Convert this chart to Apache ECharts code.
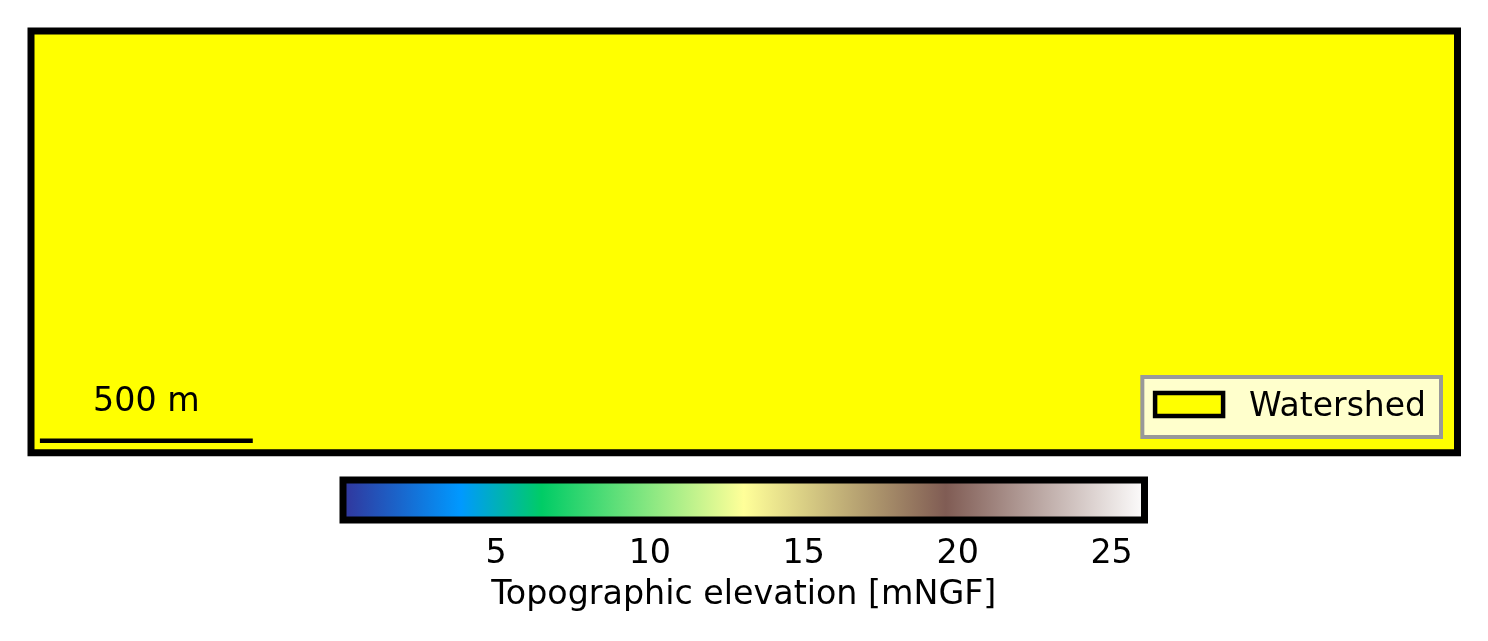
<!DOCTYPE html>
<html>
<head>
<meta charset="utf-8">
<style>html,body{margin:0;padding:0;background:#fff}#c{width:1488px;height:641px}</style>
<script src="https://cdn.jsdelivr.net/npm/echarts@6/dist/echarts.min.js"></script>
</head>
<body>
<div id="c"></div>
<script>
// Map extent in metres
const mapWidthM = 3364;
const mapHeightM = 995;
const watershed = [[0, 0, mapWidthM, mapHeightM]];
const scaleBarLine = [[21, 28], [523, 28]];
const scaleBarLabel = [[272, 118, '500 m']];
// Colour bar
const elevationRange = [0.03, 26.07];
const elevationTicks = [5, 10, 15, 20, 25];
const rampOffsets = [0, 0.15, 0.25, 0.5, 0.75, 1];
const rampColors = ['#333399', '#0099ff', '#00cc66', '#ffff99', '#805c54', '#ffffff'];
const font = '"DejaVu Sans"';
const fontSize = 33.3;

const chart = echarts.init(document.getElementById('c'), null, {renderer: 'canvas'});

function rectItem(style) {
  return function (params, api) {
    const a = api.coord([api.value(0), api.value(1)]);
    const b = api.coord([api.value(2), api.value(3)]);
    return {
      type: 'rect',
      shape: {x: a[0], y: b[1], width: b[0] - a[0], height: a[1] - b[1]},
      style: style()
    };
  };
}

chart.setOption({
  animation: false,
  backgroundColor: '#ffffff',
  textStyle: {fontFamily: font},
  grid: [
    {left: 31, top: 31, width: 1426.5, height: 421.7},
    {left: 343, top: 480, width: 801.5, height: 40}
  ],
  xAxis: [
    {gridIndex: 0, type: 'value', min: 0, max: mapWidthM, show: false},
    {
      gridIndex: 1, type: 'value', min: elevationRange[0], max: elevationRange[1],
      axisLine: {show: false}, axisTick: {show: false}, splitLine: {show: false},
      axisLabel: {customValues: elevationTicks, color: '#000', fontFamily: font, fontSize: fontSize, margin: 18},
      name: 'Topographic elevation [mNGF]', nameLocation: 'middle', nameGap: 59,
      nameTextStyle: {color: '#000', fontFamily: font, fontSize: fontSize}
    }
  ],
  yAxis: [
    {gridIndex: 0, type: 'value', min: 0, max: mapHeightM, show: false},
    {gridIndex: 1, type: 'value', min: 0, max: 1, show: false}
  ],
  legend: {
    show: true,
    right: 47,
    top: 377,
    orient: 'horizontal',
    padding: [13.5, 15, 13.5, 10.5],
    itemWidth: 68,
    itemHeight: 23,
    backgroundColor: '#ffffcc',
    borderColor: '#999999',
    borderWidth: 4,
    borderRadius: 0,
    formatter: '{t|{name}}',
    textStyle: {
      color: '#000', fontFamily: font, fontSize: 33,
      rich: {t: {color: '#000', fontFamily: font, fontSize: 33, padding: [5, 0, 0, 21]}}
    },
    data: [{name: 'Watershed', icon: 'rect', itemStyle: {color: '#ffff00', borderColor: '#000', borderWidth: 4.5}}]
  },
  series: [
    {
      name: 'Watershed', type: 'custom', xAxisIndex: 0, yAxisIndex: 0, z: 1,
      itemStyle: {color: '#ffff00', borderColor: '#000', borderWidth: 4},
      renderItem: rectItem(() => ({fill: '#ffff00', stroke: '#000', lineWidth: 7})),
      encode: {x: [0, 2], y: [1, 3]},
      data: watershed
    },
    {
      name: 'Scale bar', type: 'line', xAxisIndex: 0, yAxisIndex: 0, z: 3, symbol: 'none',
      lineStyle: {color: '#000', width: 4.5},
      data: scaleBarLine
    },
    {
      name: 'Scale label', type: 'scatter', xAxisIndex: 0, yAxisIndex: 0, z: 3, symbolSize: 0,
      itemStyle: {opacity: 1},
      label: {show: true, position: 'inside', opacity: 1, formatter: p => p.value[2], color: '#000', fontFamily: font, fontSize: fontSize},
      data: scaleBarLabel
    },
    {
      name: 'Elevation', type: 'custom', xAxisIndex: 1, yAxisIndex: 1, z: 2,
      renderItem: rectItem(() => ({
        fill: new echarts.graphic.LinearGradient(0, 0, 1, 0,
          rampOffsets.map((o, i) => ({offset: o, color: rampColors[i]}))),
        stroke: '#000', lineWidth: 7
      })),
      encode: {x: [0, 2], y: [1, 3]},
      data: [[elevationRange[0], 0, elevationRange[1], 1]]
    }
  ]
});
</script>
</body>
</html>
